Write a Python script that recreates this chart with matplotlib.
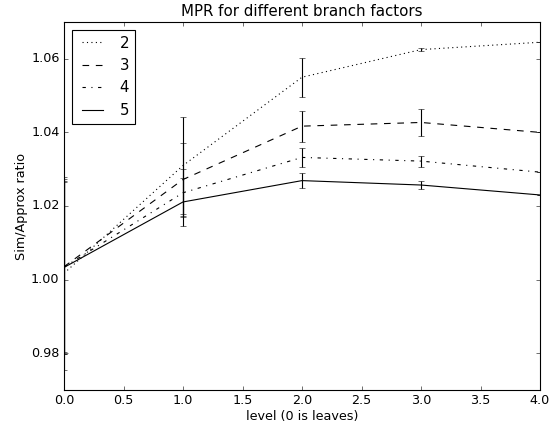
import matplotlib
matplotlib.use("Agg")
import matplotlib.pyplot as plt
from matplotlib.ticker import FormatStrFormatter

plt.style.use("classic")

levels = [0, 1, 2, 3, 4]
branch_factors = ["2", "3", "4", "5"]

ratio_b2 = [1.0017, 1.0310, 1.0550, 1.0625, 1.0645]
ratio_b3 = [1.0035, 1.0272, 1.0417, 1.0427, 1.0400]
ratio_b4 = [1.0034, 1.0236, 1.0332, 1.0322, 1.0292]
ratio_b5 = [1.0033, 1.0211, 1.0269, 1.0257, 1.0230]

err_b2 = [0.0262, 0.0132, 0.0053, 0.0003, 0.0]
err_b3 = [0.0238, 0.0099, 0.0042, 0.0037, 0.0]
err_b4 = [0.0230, 0.0065, 0.0025, 0.0015, 0.0]
err_b5 = [0.0235, 0.0065, 0.0020, 0.0010, 0.0]

series = [
    (ratio_b2, err_b2, ":"),
    (ratio_b3, err_b3, "--"),
    (ratio_b4, err_b4, "-."),
    (ratio_b5, err_b5, "-"),
]

fig = plt.figure(figsize=(558 / 80, 424 / 80), dpi=80)
ax = fig.add_axes([64 / 558, 1 - 390 / 424, 476 / 558, 368 / 424])

for label, (vals, errs, ls) in zip(branch_factors, series):
    ax.errorbar(levels, vals, yerr=errs, color="k", linestyle=ls,
                ecolor="k", capsize=3, label=label)

ax.set_xlim(0, 4)
ax.set_ylim(0.97, 1.07)
ax.set_yticks([0.98, 1.00, 1.02, 1.04, 1.06])
ax.yaxis.set_major_formatter(FormatStrFormatter("%.2f"))
ax.set_xticks([0.0, 0.5, 1.0, 1.5, 2.0, 2.5, 3.0, 3.5, 4.0])
ax.xaxis.set_major_formatter(FormatStrFormatter("%.1f"))
ax.set_title("MPR for different branch factors", fontsize=13.5)
ax.set_xlabel("level (0 is leaves)", fontsize=11.5, labelpad=2)
ax.set_ylabel("Sim/Approx ratio", fontsize=11.5, labelpad=3)
ax.tick_params(labelsize=11.5)

handles, labels = ax.get_legend_handles_labels()
handles = [h[0] for h in handles]
ax.legend(handles, labels, loc="upper left", fontsize=13.5)

fig.savefig("out.png", dpi=80)
